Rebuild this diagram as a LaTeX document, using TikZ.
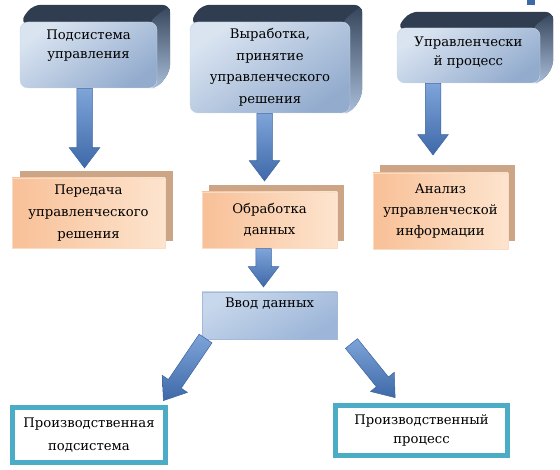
\documentclass[tikz,border=0pt]{standalone}
\usepackage{fontspec}
\setmainfont{DejaVu Serif}
\newfontfamily\serf{DejaVu Serif}
\usetikzlibrary{shapes.arrows,calc,backgrounds}
\definecolor{faceL}{HTML}{DAE4F1}
\definecolor{faceD}{HTML}{93ACCE}
\definecolor{faceEdge}{HTML}{C9D6E6}
\definecolor{topdark}{HTML}{303D50}
\definecolor{sideTop}{HTML}{34445A}
\definecolor{sideBot}{HTML}{A9BDD8}
\definecolor{orL}{HTML}{F8C097}
\definecolor{orR}{HTML}{FDE4CE}
\definecolor{orEdge}{HTML}{F8DCC6}
\definecolor{orBack}{HTML}{CCA586}
\definecolor{vL}{HTML}{C8D8EC}
\definecolor{vD}{HTML}{9CB5D8}
\definecolor{vEdge}{HTML}{A3B9D8}
\definecolor{tealb}{HTML}{4BACC6}
\definecolor{arrL}{HTML}{7EA4D9}
\definecolor{arrR}{HTML}{3E69A8}
\definecolor{arrEdge}{HTML}{3A63A0}
\newcommand\blockarrow[3]{%
  \path let \p1=($(#3)-(#2)$), \n1={atan2(\y1,\x1)}, \n2={veclen(\x1,\y1)} in
    node[barrow, rotate=\n1, minimum height=\n2, anchor=tail] (#1) at (#2) {};}
\newcommand\backthreed[3]{%
  \fill[topdark, rounded corners=8pt] (#1.north west) -- ++(#2,-#3)
    -- ($(#1.north east)+(#2,-#3)$) -- ($(#1.south east)+(#2,-#3)$)
    -- (#1.south east) -- cycle;
  \shade[top color=sideTop, bottom color=sideBot, rounded corners=7pt]
    ($(#1.north east)+(-8,0)$) -- ($(#1.north east)+(#2,-#3)$)
    -- ($(#1.south east)+(#2,-#3)$) -- (#1.south east)
    -- ($(#1.south east)+(-8,0)$) -- cycle;}
\newcommand\backflat[3]{%
  \fill[orBack] ($(#1.north west)+(#2,-#3)$) rectangle ($(#1.south east)+(#2,-#3)$);}
\newcommand\fs[1]{\serf\fontsize{13.2}{#1}\selectfont}
\begin{document}
\begin{tikzpicture}[x=1pt,y=-1pt,
  every node/.style={font=\fs{21}, align=center, inner sep=0pt},
  face3d/.style={rectangle, rounded corners=8pt, top color=faceL, bottom color=faceD,
    shading angle=35, draw=faceEdge, line width=0.4pt},
  orbox/.style={rectangle, top color=orL, bottom color=orR, shading angle=90,
    draw=orEdge, line width=0.6pt},
  vbox/.style={rectangle, top color=vL, bottom color=vD, shading angle=30,
    draw=vEdge, line width=0.6pt},
  tealbox/.style={rectangle, fill=white, draw=tealb, line width=5pt},
  barrow/.style={single arrow, inner xsep=0pt, inner ysep=7.5pt, minimum width=30pt,
    single arrow head extend=7.5pt,
    single arrow tip angle=74, single arrow head indent=0pt,
    top color=arrL, bottom color=arrR, draw=arrEdge, line width=0.5pt},
  lift/.style={text depth=#1}]
\useasboundingbox (0,0) rectangle (560,470);

% top 3D boxes
\node[face3d, minimum width=137pt, minimum height=66pt, lift=21.2pt,
  font=\fs{19}] (b1) at (88.5,55) {Подсистема\\управления};
\node[face3d, minimum width=160pt, minimum height=91pt,
  font=\fs{21.5}] (b2) at (270,67.5)
  {Выработка,\\принятие\\управленческого\\решения};
\node[face3d, minimum width=143pt, minimum height=55pt, lift=9.2pt,
  font=\fs{19}] (b3) at (468.5,55.5) {Управленчески\\й процесс};

% orange boxes
\node[orbox, minimum width=153pt, minimum height=70pt,
  font=\fs{22}] (b4) at (88.5,213)
  {Передача\\управленческого\\решения};
\node[orbox, minimum width=135pt, minimum height=56pt] (b5) at (269.5,220)
  {Обработка\\данных};
\node[orbox, minimum width=135pt, minimum height=76pt] (b6) at (440.5,211)
  {Анализ\\управленческой\\информации};

% input box
\node[vbox, minimum width=135pt, minimum height=47pt, lift=25.2pt] (v) at (269.5,315.5)
  {Ввод данных};

% bottom boxes
\node[tealbox, minimum width=153pt, minimum height=55pt,
  font=\fs{23}] (pl) at (89,435)
  {Производственная\\подсистема};
\node[tealbox, minimum width=172pt, minimum height=50pt,
  font=\fs{19}] (pr) at (421.5,430.5)
  {Производственный\\процесс};

\begin{scope}[on background layer]
  \backthreed{b1}{13}{17}
  \backthreed{b2}{12}{17}
  \backthreed{b3}{13}{16}
  \backflat{b4}{8}{7}
  \backflat{b5}{7}{7}
  \backflat{b6}{7}{8}
\end{scope}

% connector end points
\coordinate (a1s) at ([xshift=-4pt]b1.south);
\coordinate (a1e) at ([xshift=-4pt, yshift=10pt]b4.north);
\coordinate (a2s) at ([xshift=-5.5pt]b2.south);
\coordinate (a2e) at ([xshift=-5pt, yshift=11pt]b5.north);
\coordinate (a3s) at ([xshift=-35.5pt]b3.south);
\coordinate (a3e) at ([xshift=-7.5pt, yshift=18pt]b6.north);
\coordinate (a4s) at ([xshift=-6pt]b5.south);
\coordinate (a4e) at ([xshift=-6pt, yshift=5pt]v.north);
\coordinate (a5s) at ([xshift=4pt, yshift=1pt]v.south west);
\coordinate (a5e) at ([xshift=-4.5pt, yshift=4.5pt]pl.north east);
\coordinate (a6s) at ([xshift=14pt, yshift=-4pt]v.south east);
\coordinate (a6e) at ([xshift=-26.5pt, yshift=5.5pt]pr.north);

\blockarrow{ar1}{a1s}{a1e}
\blockarrow{ar2}{a2s}{a2e}
\blockarrow{ar3}{a3s}{a3e}
\blockarrow{ar4}{a4s}{a4e}
\blockarrow{ar5}{a5s}{a5e}
\blockarrow{ar6}{a6s}{a6e}

% cut-off fragment at the top edge
\fill[arrR] (527,0) rectangle (535,5);
\end{tikzpicture}
\end{document}
